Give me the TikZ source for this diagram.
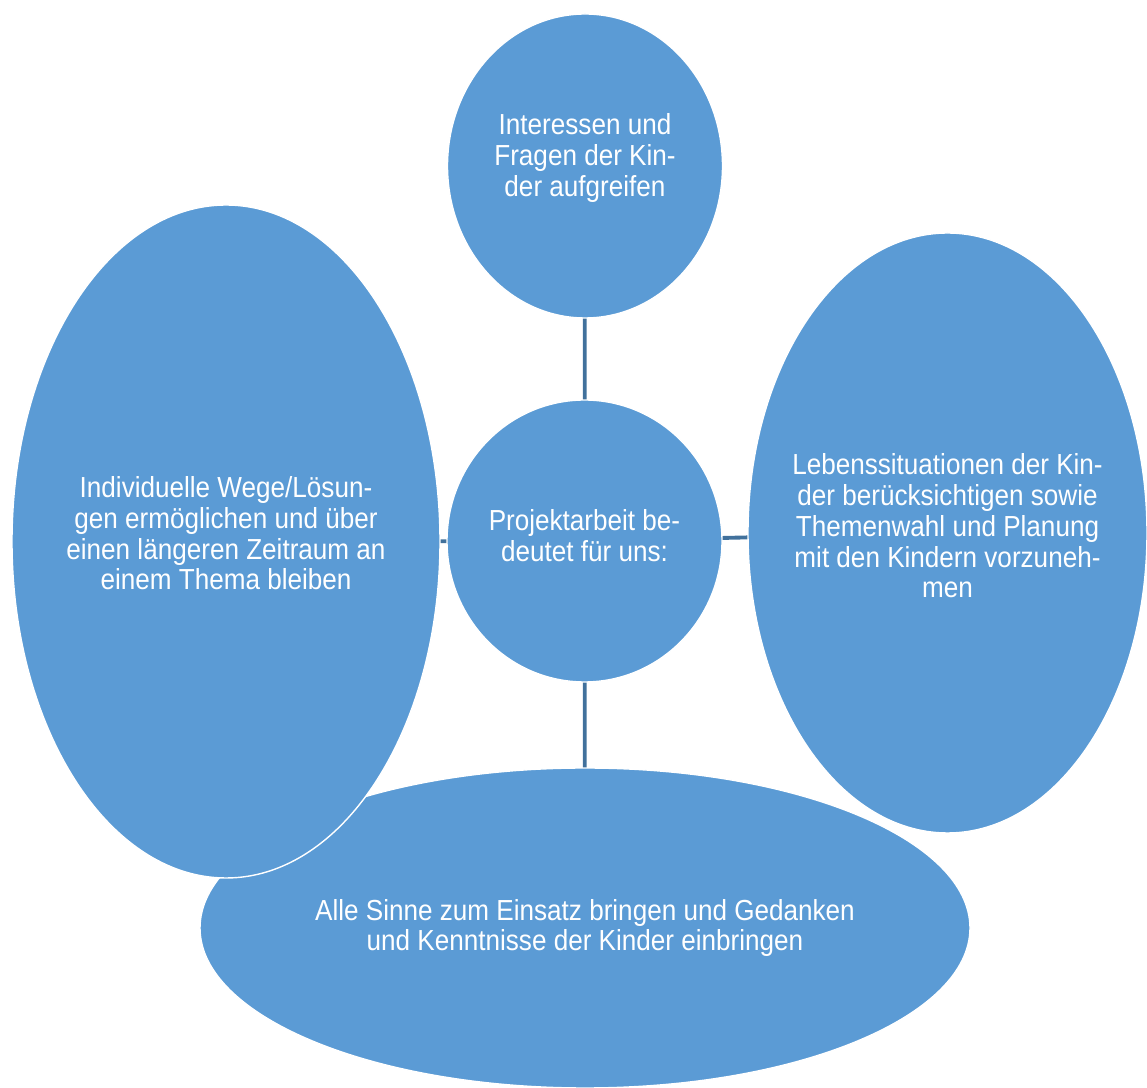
\documentclass[tikz,border=0pt]{standalone}
\usepackage{fontspec}
\setmainfont{Liberation Sans}[FakeStretch=0.9]
\usetikzlibrary{shapes.geometric}
\definecolor{topicblue}{RGB}{91,155,213}
\definecolor{linkblue}{RGB}{65,113,156}

\begin{document}
\begin{tikzpicture}[
  topic/.style={ellipse, fill=topicblue, draw=white, line width=0.8pt,
    inner sep=0pt},
  caption/.style={text=white, align=center, inner sep=0pt,
    font=\fontsize{16.5}{17.5}\selectfont},
  link/.style={draw=linkblue, line width=2.2pt}]
\useasboundingbox (0,0) rectangle (22.94,21.76);
            % Topics
\node[topic, minimum width=15.4cm, minimum height=6.4cm] (sinne) at (11.70,3.20) {};
\node[topic, minimum width=8.56cm, minimum height=13.46cm] (wege) at (4.52,10.93) {};
\node[topic, minimum width=7.98cm, minimum height=12.0cm] (leben) at (18.95,11.10) {};
\node[topic, minimum width=5.5cm, minimum height=6.08cm] (fragen) at (11.70,18.44) {};
\node[topic, minimum width=5.5cm, minimum height=5.64cm] (projekt) at (11.69,10.94) {};
            % Texts
\node[caption] (sinne-txt) at (sinne.center)
  {Alle Sinne zum Einsatz bringen und Gedanken\\und Kenntnisse der Kinder einbringen};
\node[caption] (wege-txt) at ([yshift=1.6mm]wege.center)
  {Individuelle Wege/Lösun-\\gen ermöglichen und über\\einen längeren Zeitraum an\\einem Thema bleiben};
\node[caption] (leben-txt) at ([yshift=1.4mm]leben.center)
  {Lebenssituationen der Kin-\\der berücksichtigen sowie\\Themenwahl und Planung\\mit den Kindern vorzuneh-\\men};
\node[caption] (fragen-txt) at ([yshift=1.6mm]fragen.center)
  {Interessen und\\Fragen der Kin-\\der aufgreifen};
\node[caption] (projekt-txt) at ([yshift=1mm]projekt.center)
  {Projektarbeit be-\\deutet für uns:};
%Connections
\draw[link] (fragen) -- (projekt);
\draw[link] (projekt) -- (sinne);
\draw[link] (projekt) -- (wege);
\draw[link] (projekt) -- (leben);
\end{tikzpicture}
\end{document}
